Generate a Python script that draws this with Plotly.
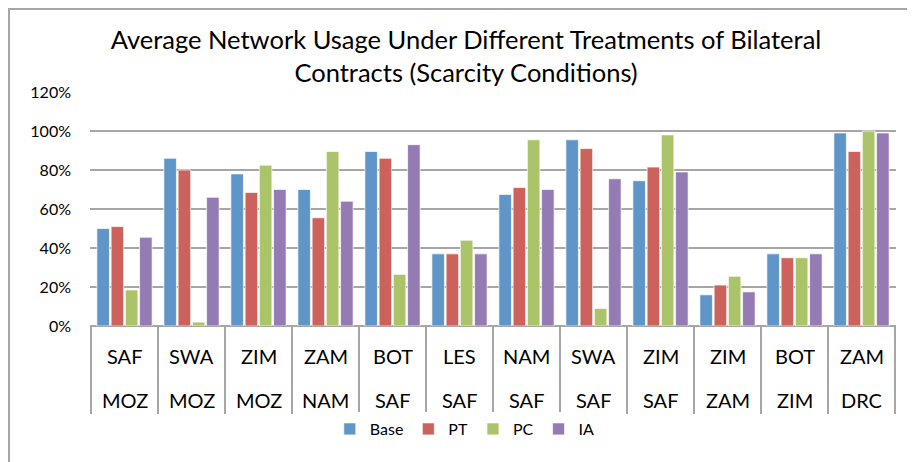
import plotly.graph_objects as go

top_labels = ["SAF", "SWA", "ZIM", "ZAM", "BOT", "LES", "NAM", "SWA", "ZIM", "ZIM", "BOT", "ZAM"]
bottom_labels = ["MOZ", "MOZ", "MOZ", "NAM", "SAF", "SAF", "SAF", "SAF", "SAF", "ZAM", "ZIM", "DRC"]
categories = [f"{a}-{b}" for a, b in zip(top_labels, bottom_labels)]

base = [0.50, 0.86, 0.78, 0.70, 0.895, 0.37, 0.675, 0.955, 0.745, 0.16, 0.37, 0.99]
pt = [0.51, 0.80, 0.685, 0.555, 0.86, 0.37, 0.71, 0.91, 0.815, 0.21, 0.35, 0.895]
pc = [0.185, 0.02, 0.825, 0.895, 0.265, 0.44, 0.955, 0.09, 0.98, 0.255, 0.35, 1.00]
ia = [0.455, 0.66, 0.70, 0.64, 0.93, 0.37, 0.70, 0.755, 0.79, 0.175, 0.37, 0.99]

series = [("Base", base, "#6095CA"), ("PT", pt, "#CD625C"),
          ("PC", pc, "#ABC46A"), ("IA", ia, "#947BB3")]

FONT = "Lato"

fig = go.Figure()
for name, vals, col in series:
    fig.add_trace(go.Bar(
        x=categories, y=vals, name=name,
        marker=dict(color=col, line=dict(color="rgba(255,255,255,0.7)", width=1)),
    ))

shapes = []
n = len(categories)
for i in range(n + 1):
    shapes.append(dict(type="line", xref="x", yref="paper",
                       x0=i - 0.5, x1=i - 0.5, y0=0, y1=-0.376,
                       line=dict(color="#A6A6A6", width=2)))
# chart outer frame
shapes.append(dict(type="rect", xref="paper", yref="paper",
                   x0=-0.1005, x1=1.2, y0=-0.8, y1=1.3547,
                   line=dict(color="#A6A6A6", width=2)))

annotations = []
for i, (a, b) in enumerate(zip(top_labels, bottom_labels)):
    annotations.append(dict(x=categories[i], y=-0.13, xref="x", yref="paper",
                            text=a, showarrow=False, yanchor="middle",
                            font=dict(family=FONT, size=20, color="#000000")))
    annotations.append(dict(x=categories[i], y=-0.318, xref="x", yref="paper",
                            text=b, showarrow=False, yanchor="middle",
                            font=dict(family=FONT, size=20, color="#000000")))

fig.update_layout(
    width=907, height=454,
    margin=dict(l=82, r=19, t=84, b=136, autoexpand=False),
    paper_bgcolor="white", plot_bgcolor="white",
    title=dict(text="Average Network Usage Under Different Treatments of Bilateral<br>Contracts (Scarcity Conditions)",
               x=0.505, xref="container", xanchor="center", y=0.91, yanchor="top",
               font=dict(family=FONT, size=25.5, color="#000000")),
    barmode="group", bargap=0.15, bargroupgap=0.12,
    font=dict(family=FONT, color="#000000"),
    xaxis=dict(showticklabels=False, showgrid=False, zeroline=False,
               showline=False, ticks="", automargin=False),
    yaxis=dict(range=[0, 1.2], dtick=0.2, tickformat=".0%",
               showgrid=True, gridcolor="#A6A6A6", gridwidth=2,
               zeroline=True, zerolinecolor="#A6A6A6", zerolinewidth=2,
               showline=False, ticks="", ticklabelstandoff=18, automargin=False,
               tickfont=dict(family=FONT, size=16, color="#000000")),
    legend=dict(orientation="h", x=0.465, xanchor="center", y=-0.3675, yanchor="top",
                font=dict(family=FONT, size=16, color="#000000"),
                itemwidth=30, tracegroupgap=0),
    shapes=shapes, annotations=annotations,
)

fig.write_html("out.html")
